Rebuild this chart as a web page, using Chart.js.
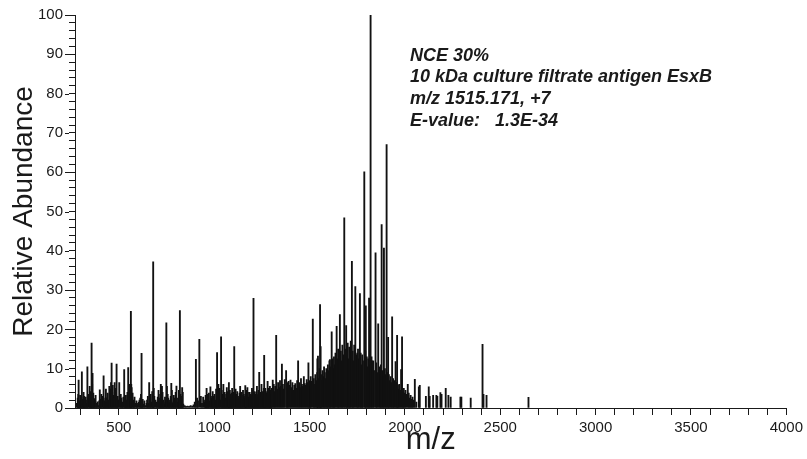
<!DOCTYPE html>
<html>
<head>
<meta charset="utf-8">
<script src="https://cdn.jsdelivr.net/npm/chart.js@4.4.1/dist/chart.umd.min.js"></script>
<style>
  html, body { margin: 0; padding: 0; background: #ffffff; }
</style>
</head>
<body>
<canvas id="spectrum" width="807" height="459"></canvas>
<script>
/* global Chart */

// MS/MS spectrum of EsxB (+7) at NCE 30%. Peaks are [m/z, relative abundance]
// pairs.

// Tall, isolated fragment peaks.
const majorPeaks = [
  [289, 7.1], [306, 9.2], [335, 10.5], [357, 16.5], [362, 8.8], [400, 4.6],
  [420, 8.2], [450, 5.5], [462, 11.4], [488, 11.2], [502, 6.5], [528, 9.8],
  [549, 10.3], [563, 24.6], [619, 13.9], [659, 6.5], [680, 37.2], [749, 21.7],
  [775, 6.3], [802, 5.6], [820, 24.8], [832, 5.2], [904, 12.4], [922, 17.5],
  [980, 5.4], [1015, 14.1], [1036, 18.1], [1077, 6.5], [1105, 15.6],
  [1163, 5.7], [1206, 27.9], [1236, 9.1], [1262, 13.4], [1307, 7.1],
  [1325, 18.5], [1355, 11.2], [1377, 9.5], [1400, 7.1], [1440, 12.0],
  [1494, 11.5], [1517, 22.6], [1541, 12.5], [1544, 13.2], [1555, 26.3],
  [1558, 15.6], [1607, 12.3], [1616, 19.4], [1642, 20.8], [1659, 23.8],
  [1682, 48.4], [1692, 21.0], [1712, 14.0], [1722, 37.3], [1740, 30.9],
  [1750, 14.0], [1764, 29.1], [1787, 60.1], [1795, 26.0], [1812, 28.0],
  [1820, 100], [1828, 12.0], [1846, 39.5], [1860, 21.4], [1878, 46.7],
  [1890, 40.7], [1904, 67.0], [1912, 18.0], [1933, 23.2], [1951, 11.8],
  [1959, 18.5], [1985, 18.1],
];

// Low-level fragment "grass" below m/z 1300.
const lowRangePeaks = [
  [280, 1.2], [284, 2.5], [292, 1.8], [297, 3.2], [301, 1.0], [310, 2.2],
  [315, 4.0], [320, 1.5], [326, 2.8], [330, 1.2], [339, 3.5], [347, 5.5],
  [352, 2.0], [366, 3.8], [370, 2.4], [375, 1.2], [382, 0.8], [388, 1.6],
  [394, 0.6], [405, 2.2], [410, 1.0], [415, 3.0], [426, 1.8], [432, 4.8],
  [438, 2.6], [444, 1.2], [452, 3.5], [456, 4.8], [468, 5.8], [472, 3.2],
  [478, 6.5], [482, 4.5], [494, 3.0], [498, 2.0], [507, 1.5], [514, 2.5],
  [520, 1.0], [534, 2.0], [540, 1.5], [545, 4.0], [555, 5.5], [558, 6.0],
  [567, 5.2], [572, 3.8], [578, 2.0], [585, 1.2], [592, 1.8], [598, 0.8],
  [604, 1.5], [612, 2.5], [625, 2.2], [630, 1.0], [638, 0.6], [645, 1.2],
  [652, 3.0], [664, 2.2], [670, 1.5], [675, 4.2], [686, 3.0], [692, 2.0],
  [700, 1.2], [708, 4.5], [714, 2.5], [720, 6.0], [726, 5.5], [732, 2.0],
  [738, 1.0], [742, 2.8], [756, 3.5], [762, 1.5], [768, 2.0], [782, 1.2],
  [788, 3.2], [795, 1.8], [810, 2.5], [815, 4.5], [826, 3.0], [838, 1.0],
  [845, 0.6], [852, 0.4], [860, 0.5], [868, 0.4], [876, 0.6], [884, 0.5],
  [892, 0.8], [898, 1.5], [910, 2.5], [915, 1.8], [930, 3.0], [936, 1.2],
  [942, 2.8], [948, 1.5], [955, 3.2], [960, 5.0], [966, 2.2], [972, 3.8],
  [986, 2.5], [992, 4.2], [998, 3.0], [1004, 2.0], [1010, 4.8], [1022, 6.0],
  [1028, 5.0], [1042, 3.5], [1048, 6.0], [1055, 4.0], [1060, 2.5],
  [1066, 5.2], [1072, 3.0], [1082, 4.5], [1088, 3.5], [1094, 5.0],
  [1100, 4.0], [1112, 4.8], [1118, 3.2], [1124, 2.5], [1130, 3.0],
  [1136, 5.5], [1142, 4.0], [1148, 2.2], [1155, 3.5], [1168, 4.5],
  [1174, 5.2], [1180, 2.8], [1186, 4.0], [1192, 3.2], [1198, 5.0],
  [1212, 4.2], [1218, 2.6], [1224, 5.5], [1230, 3.4], [1242, 4.0],
  [1248, 6.0], [1254, 3.5], [1268, 5.0], [1274, 3.8], [1280, 6.8],
  [1286, 4.5], [1292, 5.5], [1298, 4.0],
];

// Extra small peaks that fill in the baseline between the ones above.
const lowRangeFill = [
  [287, 3.5], [295, 1.0], [304, 2.8], [312, 1.5], [318, 3.0], [323, 1.2],
  [333, 2.0], [344, 3.0], [350, 4.2], [355, 2.5], [360, 6.0], [368, 2.0],
  [378, 3.2], [385, 1.2], [397, 1.8], [402, 1.0], [408, 3.5], [418, 2.0],
  [423, 1.2], [429, 2.5], [435, 1.5], [441, 3.8], [447, 2.0], [459, 6.5],
  [465, 4.0], [475, 2.5], [485, 5.0], [491, 2.2], [510, 3.5], [517, 1.5],
  [524, 2.8], [531, 1.2], [537, 3.2], [543, 2.0], [552, 3.0], [561, 4.5],
  [565, 6.0], [575, 1.5], [582, 2.8], [595, 1.2], [608, 2.0], [616, 3.5],
  [622, 1.5], [634, 1.8], [648, 2.0], [656, 1.2], [667, 3.5], [678, 2.5],
  [683, 5.0], [696, 1.5], [704, 2.8], [711, 1.5], [717, 3.5], [723, 2.0],
  [729, 4.0], [735, 1.5], [746, 2.0], [752, 5.5], [759, 2.5], [765, 1.2],
  [772, 3.0], [778, 4.5], [785, 1.5], [792, 2.5], [798, 4.0], [805, 1.5],
  [812, 1.0], [818, 2.0], [823, 3.5], [829, 2.0], [835, 4.0],
  [952, 2.0], [958, 1.5], [963, 3.5], [969, 2.8], [975, 1.8], [983, 3.0],
  [989, 1.5], [995, 2.5], [1001, 3.5], [1007, 1.8], [1013, 3.0], [1019, 2.5],
  [1025, 3.8], [1031, 2.0], [1039, 4.5], [1045, 2.5], [1051, 3.2],
  [1057, 1.8], [1063, 3.5], [1069, 4.2], [1075, 2.5], [1079, 3.2],
  [1085, 2.2], [1091, 3.8], [1097, 2.5], [1103, 3.2], [1109, 2.0],
  [1115, 3.5], [1121, 4.2], [1127, 2.0], [1133, 3.8], [1139, 2.5],
  [1145, 3.2], [1151, 4.5], [1158, 2.5], [1162, 3.0], [1165, 2.0],
  [1171, 3.2], [1177, 4.0], [1183, 2.5], [1189, 3.5], [1195, 2.8],
  [1201, 3.5], [1204, 4.5], [1209, 2.8], [1215, 3.5], [1221, 4.0],
  [1227, 2.5], [1233, 4.5], [1239, 3.0], [1245, 2.8], [1251, 4.2],
  [1257, 3.0], [1260, 5.0], [1265, 3.5], [1271, 4.2], [1277, 3.0],
  [1283, 5.0], [1289, 3.5], [1295, 4.5], [1300, 3.5],
];

// Dense cluster of fragments between m/z 1300 and 2060.
const clusterPeaks = [
  [1302, 5.0], [1312, 6.0], [1316, 4.2], [1320, 5.5], [1330, 4.8],
  [1335, 6.5], [1340, 5.2], [1345, 7.0], [1350, 5.5], [1360, 6.0],
  [1365, 4.8], [1370, 7.2], [1382, 6.5], [1386, 5.0], [1390, 6.8],
  [1395, 5.8], [1405, 5.2], [1410, 6.5], [1415, 4.5], [1420, 5.8],
  [1425, 6.2], [1430, 5.0], [1435, 7.0], [1445, 6.5], [1450, 5.2],
  [1455, 7.5], [1460, 6.0], [1465, 5.5], [1470, 8.0], [1475, 6.2],
  [1480, 5.8], [1485, 7.2], [1490, 6.5], [1498, 7.0], [1502, 5.5],
  [1506, 8.0], [1510, 6.8], [1522, 7.5], [1526, 6.0], [1530, 8.5],
  [1535, 7.0], [1540, 9.0], [1548, 7.5], [1552, 10.0], [1560, 8.5],
  [1564, 7.0], [1568, 9.5], [1572, 8.0], [1576, 10.5], [1580, 9.0],
  [1584, 7.5], [1588, 10.0], [1592, 8.5], [1596, 11.0], [1600, 9.5],
  [1604, 12.0], [1611, 10.5], [1620, 12.5], [1624, 10.0], [1628, 13.0],
  [1632, 11.0], [1636, 14.0], [1646, 12.5], [1650, 15.0], [1654, 13.0],
  [1664, 14.5], [1668, 12.0], [1672, 16.0], [1676, 13.5], [1686, 15.0],
  [1696, 14.0], [1700, 16.5], [1704, 12.5], [1708, 15.5], [1716, 17.0],
  [1726, 14.5], [1730, 12.0], [1734, 16.0], [1745, 13.5], [1754, 15.0],
  [1758, 12.5], [1768, 14.0], [1772, 11.0], [1776, 13.5], [1780, 12.0],
  [1792, 14.5], [1800, 13.0], [1804, 10.5], [1808, 12.5], [1816, 11.0],
  [1825, 13.0], [1834, 12.0], [1838, 9.5], [1850, 11.5], [1854, 9.0],
  [1865, 10.5], [1870, 8.5], [1874, 11.0], [1882, 9.5], [1886, 8.0],
  [1895, 10.0], [1900, 8.5], [1908, 9.0], [1916, 8.5], [1920, 7.0],
  [1925, 8.0], [1929, 6.5], [1938, 7.5], [1942, 6.0], [1946, 7.0],
  [1955, 6.5], [1963, 5.8], [1966, 4.8], [1970, 6.0], [1975, 4.5],
  [1980, 9.8], [1990, 4.2], [1994, 5.0], [1998, 3.8], [2003, 4.5],
  [2008, 3.5], [2015, 6.0], [2020, 3.8], [2025, 2.5], [2030, 3.2],
  [2035, 2.2], [2040, 2.8], [2045, 2.0], [2052, 7.3], [2060, 1.5],
];

// Sparse peaks above m/z 2060.
const tailPeaks = [
  [2073, 5.4], [2078, 5.8], [2110, 3.0], [2125, 5.4], [2130, 3.0],
  [2148, 3.2], [2165, 3.2], [2170, 3.0], [2186, 3.9], [2192, 3.5],
  [2214, 5.0], [2228, 3.2], [2240, 2.8], [2291, 2.8], [2296, 2.8],
  [2345, 2.5], [2407, 16.2], [2412, 3.5], [2428, 3.2], [2648, 2.7],
];

const xTickLabels = [500, 1000, 1500, 2000, 2500, 3000, 3500, 4000];
const yTickLabels = [0, 10, 20, 30, 40, 50, 60, 70, 80, 90, 100];

const annotationLines = [
  "NCE 30%",
  "10 kDa culture filtrate antigen EsxB",
  "m/z 1515.171, +7",
  "E-value:   1.3E-34",
];

const FONT_FAMILY = '"Liberation Sans", Arial, Helvetica, sans-serif';
const INK = "#1a1a1a";

const X_MIN = 270;
const X_MAX = 4000;
const X_MINOR_STEP = 100;

const peaks = [
  ...lowRangePeaks,
  ...lowRangeFill,
  ...clusterPeaks,
  ...tailPeaks,
  ...majorPeaks,
].map(([mz, abundance]) => ({ x: mz, y: abundance }));

// Minor x ticks every 100 m/z starting at the first round value past the axis minimum.
function buildXTicks() {
  const ticks = [];
  for (let v = Math.ceil(X_MIN / X_MINOR_STEP) * X_MINOR_STEP; v <= X_MAX; v += X_MINOR_STEP) {
    ticks.push({ value: v });
  }
  return ticks;
}

// The labelled y ticks are a little longer than the minor ones.
const majorTickPlugin = {
  id: "majorTicks",
  afterDraw(chart) {
    const yScale = chart.scales.y;
    const ctx = chart.ctx;
    ctx.save();
    ctx.strokeStyle = INK;
    ctx.lineWidth = 1;
    ctx.beginPath();
    yTickLabels.forEach((value) => {
      const py = Math.round(yScale.getPixelForValue(value)) + 0.5;
      ctx.moveTo(yScale.right - 10, py);
      ctx.lineTo(yScale.right - 6, py);
    });
    ctx.stroke();
    ctx.restore();
  },
};

const annotationPlugin = {
  id: "spectrumNote",
  afterDraw(chart) {
    const { ctx, chartArea } = chart;
    ctx.save();
    ctx.font = `italic bold 18px ${FONT_FAMILY}`;
    ctx.fillStyle = INK;
    ctx.textAlign = "left";
    ctx.textBaseline = "alphabetic";
    annotationLines.forEach((line, index) => {
      ctx.fillText(line, chartArea.left + 335, chartArea.top + 45.5 + index * 21.8);
    });
    ctx.restore();
  },
};

new Chart(document.getElementById("spectrum"), {
  type: "bar",
  data: {
    datasets: [
      {
        data: peaks,
        backgroundColor: "#111111",
        borderWidth: 0,
        barThickness: 1.2,
        grouped: false,
      },
    ],
  },
  options: {
    responsive: false,
    animation: false,
    devicePixelRatio: 1,
    layout: { padding: { left: 0, right: 18, top: 15, bottom: 0 } },
    plugins: {
      legend: { display: false },
      tooltip: { enabled: false },
    },
    scales: {
      x: {
        type: "linear",
        min: X_MIN,
        max: X_MAX,
        offset: false,
        afterBuildTicks: (scale) => {
          scale.ticks = buildXTicks();
        },
        afterFit: (scale) => {
          scale.height = 51;
        },
        border: { display: true, color: INK, width: 1 },
        grid: {
          display: true,
          offset: false,
          drawOnChartArea: false,
          drawTicks: true,
          tickLength: 7,
          tickColor: INK,
        },
        ticks: {
          autoSkip: false,
          maxRotation: 0,
          padding: 4,
          color: INK,
          font: { family: FONT_FAMILY, size: 15 },
          callback: (value) => (xTickLabels.includes(value) ? String(value) : ""),
        },
        title: {
          display: true,
          text: "m/z",
          color: INK,
          font: { family: FONT_FAMILY, size: 31 },
          padding: { top: 0, bottom: 0 },
        },
      },
      y: {
        min: 0,
        max: 100,
        afterFit: (scale) => {
          scale.width = 75;
        },
        border: { display: true, color: INK, width: 1 },
        grid: {
          display: true,
          drawOnChartArea: false,
          drawTicks: true,
          tickLength: 6,
          tickColor: INK,
        },
        ticks: {
          stepSize: 2,
          autoSkip: false,
          padding: 6,
          color: INK,
          font: { family: FONT_FAMILY, size: 15 },
          callback: (value) => (yTickLabels.includes(value) ? String(value) : ""),
        },
        title: {
          display: true,
          text: "Relative Abundance",
          color: INK,
          font: { family: FONT_FAMILY, size: 28 },
          padding: { top: 7, bottom: 0 },
        },
      },
    },
  },
  plugins: [majorTickPlugin, annotationPlugin],
});
</script>
</body>
</html>
